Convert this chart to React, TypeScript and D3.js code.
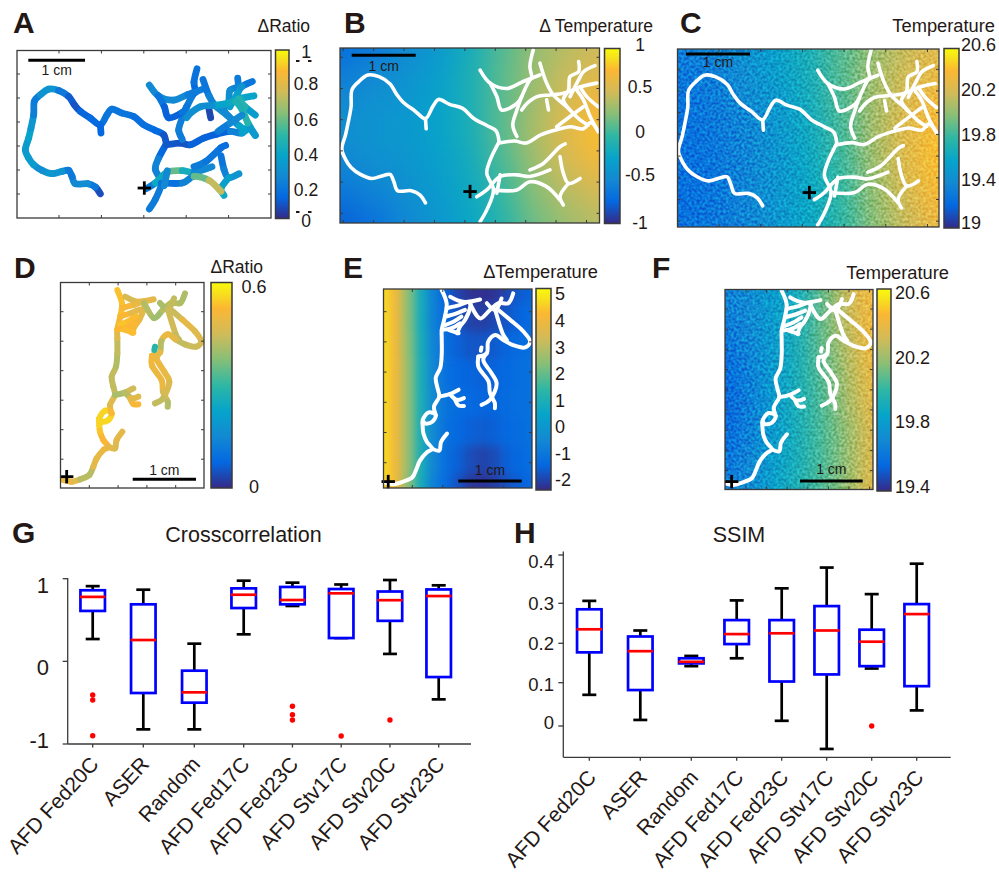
import React from 'react';
import * as d3 from 'd3';

// ---- data ----------------------------------------------------------------

const boxNames = ['AFD Fed20C', 'ASER', 'Random', 'AFD Fed17C', 'AFD Fed23C', 'AFD Stv17C', 'AFD Stv20C', 'AFD Stv23C'];

// low whisker, q1, median, q3, high whisker
const crossStats = [
  [0.27, 0.61, 0.78, 0.86, 0.91],
  [-0.823, -0.383, 0.258, 0.69, 0.867],
  [-0.823, -0.5, -0.375, -0.113, 0.214],
  [0.327, 0.645, 0.806, 0.883, 0.976],
  [0.67, 0.69, 0.742, 0.9, 0.952],
  [0.282, 0.282, 0.823, 0.875, 0.93],
  [0.09, 0.49, 0.74, 0.845, 0.984],
  [-0.46, -0.19, 0.79, 0.87, 0.92],
];
const crossOutliers = [[-0.407, -0.468, -0.9], [], [], [], [-0.544, -0.645, -0.71], [-0.903], [-0.71], []];

const ssimStats = [
  [0.072, 0.177, 0.235, 0.285, 0.305],
  [0.014, 0.083, 0.18, 0.217, 0.232],
  [0.142, 0.149, 0.153, 0.162, 0.168],
  [0.162, 0.198, 0.223, 0.258, 0.306],
  [0.012, 0.103, 0.225, 0.258, 0.331],
  [-0.053, 0.121, 0.232, 0.293, 0.374],
  [0.136, 0.142, 0.204, 0.234, 0.319],
  [0.036, 0.092, 0.273, 0.298, 0.382],
];
const ssimOutliers = [[], [], [], [], [], [], [0], []];

// worm track 1: stage x, stage y, delta ratio
const track1 = [
  [[300, 582, 0.03], [285, 562, 0.12], [262, 552, 0.25], [225, 552, 0.3], [215, 530, 0.2], [205, 512, 0.17], [185, 515, 0.22], [155, 522, 0.38], [125, 512, 0.25], [100, 495, 0.3], [85, 475, 0.38], [75, 450, 0.3], [85, 415, 0.35], [92, 385, 0.4], [100, 345, 0.22], [102, 305, 0.2], [120, 285, 0.2], [145, 268, 0.38], [175, 272, 0.22], [205, 290, 0.15], [222, 315, 0.05], [240, 335, 0.12], [270, 355, 0.12], [300, 375, 0.15], [320, 345, 0.2], [335, 328, 0.15], [365, 340, 0.2], [400, 350, 0.15], [430, 375, 0.15], [465, 392, 0.15], [490, 405, 0.12], [498, 432, 0.05]],
  [[300, 375, 0.15], [302, 400, 0.1]],
  [[498, 432, 0.05], [474, 477, 0.2], [465, 509, 0.25], [483, 550, 0.2], [465, 599, 0.2], [447, 628, 0.2]],
  [[498, 435, 0.1], [540, 430, 0.08], [570, 435, 0.08], [610, 415, 0.15], [650, 403, 0.08], [690, 395, 0.15], [725, 400, 0.3], [745, 385, 0.4], [765, 407, 0.2]],
  [[546, 419, 0.2], [535, 391, 0.2], [546, 354, 0.22], [559, 321, 0.2], [581, 280, 0.2], [586, 276, 0.1], [581, 247, 0.15], [590, 207, 0.18]],
  [[447, 256, 0.3], [474, 288, 0.2], [519, 301, 0.3], [563, 284, 0.2], [608, 268, 0.2]],
  [[474, 288, 0.2], [492, 321, 0.15], [505, 354, 0.08], [546, 338, 0.15], [559, 321, 0.2]],
  [[608, 239, 0.2], [626, 288, 0.15], [644, 317, 0.3], [680, 346, 0.25], [716, 378, 0.3], [738, 391, 0.45]],
  [[631, 354, 0.05], [626, 329, 0.07]],
  [[712, 235, 0.2], [712, 260, 0.2], [689, 272, 0.25], [685, 305, 0.3], [671, 329, 0.25], [689, 354, 0.25]],
  [[756, 245, 0.15], [725, 260, 0.2], [712, 280, 0.4], [689, 321, 0.3]],
  [[761, 288, 0.4], [725, 295, 0.35], [671, 313, 0.45], [635, 317, 0.3], [600, 321, 0.25], [573, 338, 0.3], [559, 354, 0.25]],
  [[765, 346, 0.2], [734, 321, 0.48], [716, 297, 0.45]],
  [[765, 407, 0.2], [743, 370, 0.45], [725, 329, 0.5], [707, 305, 0.4]],
  [[653, 395, 0.2], [689, 370, 0.2], [725, 346, 0.3]],
  [[438, 567, 0.2], [465, 550, 0.2], [501, 517, 0.6], [546, 513, 0.55], [581, 517, 0.3], [635, 501, 0.2]],
  [[581, 501, 0.2], [617, 485, 0.2], [662, 444, 0.15], [676, 437, 0.15]],
  [[662, 468, 0.15], [671, 509, 0.2], [685, 534, 0.25], [716, 522, 0.35]],
  [[685, 534, 0.3], [662, 566, 0.4], [671, 587, 0.4]],
  [[483, 550, 0.18], [546, 550, 0.15], [581, 530, 0.3], [626, 542, 0.85], [662, 575, 0.6]],
  [[501, 513, 0.35], [492, 558, 0.15]],
];

// worm track 2
const track2 = [
  [[190, 690, 0.5], [215, 695, 0.5], [240, 688, 0.47], [268, 675, 0.38], [280, 650, 0.47], [290, 625, 0.5], [310, 600, 0.48], [325, 590, 0.52], [310, 570, 0.52], [300, 545, 0.52], [298, 525, 0.56], [298, 505, 0.55], [315, 482, 0.56], [335, 490, 0.55], [325, 510, 0.56], [305, 515, 0.56], [298, 505, 0.55]],
  [[335, 490, 0.53], [330, 465, 0.5], [345, 435, 0.45], [340, 410, 0.42], [335, 380, 0.45], [348, 350, 0.42], [352, 310, 0.42], [352, 265, 0.45], [352, 238, 0.5], [361, 199, 0.52], [366, 160, 0.55], [352, 120, 0.52]],
  [[325, 590, 0.5], [345, 595, 0.47], [350, 570, 0.47], [367, 545, 0.5]],
  [[345, 435, 0.42], [375, 428, 0.4], [400, 415, 0.5]],
  [[375, 428, 0.4], [395, 445, 0.45], [415, 440, 0.5]],
  [[390, 445, 0.45], [400, 462, 0.52], [415, 463, 0.52]],
  [[376, 140, 0.45], [413, 155, 0.48], [461, 148, 0.48]],
  [[366, 174, 0.56], [404, 164, 0.48], [432, 155, 0.5], [432, 174, 0.46], [418, 209, 0.5], [404, 228, 0.5], [396, 248, 0.52]],
  [[361, 199, 0.55], [394, 189, 0.5], [418, 179, 0.46]],
  [[361, 224, 0.52], [385, 214, 0.56], [408, 199, 0.5]],
  [[352, 238, 0.5], [380, 233, 0.55], [404, 219, 0.5]],
  [[371, 238, 0.54], [400, 248, 0.52]],
  [[432, 159, 0.42], [461, 204, 0.42], [489, 179, 0.38], [513, 159, 0.48], [541, 159, 0.38], [555, 130, 0.45]],
  [[480, 159, 0.4], [504, 179, 0.42], [522, 145, 0.45]],
  [[504, 179, 0.45], [527, 253, 0.45], [537, 268, 0.42]],
  [[513, 179, 0.42], [546, 208, 0.47], [584, 243, 0.5], [603, 273, 0.45], [589, 290, 0.47], [555, 283, 0.42], [527, 268, 0.45], [504, 253, 0.52], [484, 273, 0.47], [480, 307, 0.38], [456, 317, 0.5]],
  [[456, 317, 0.52], [456, 347, 0.5], [485, 391, 0.5], [489, 425, 0.5], [503, 455, 0.42], [503, 470, 0.42]],
  [[480, 307, 0.48], [470, 327, 0.5], [494, 367, 0.5], [508, 397, 0.48], [489, 445, 0.45], [465, 460, 0.42]],
  [[465, 290, 0.28], [463, 300, 0.3]],
];

// temperature maps, top row first
const fieldB = [
  [-0.7, -0.62, -0.5, -0.35, -0.15, 0.1, 0.3, 0.42, 0.5],
  [-0.58, -0.5, -0.42, -0.3, -0.12, 0.12, 0.32, 0.48, 0.6],
  [-0.48, -0.42, -0.38, -0.27, -0.12, 0.12, 0.35, 0.55, 0.72],
  [-0.45, -0.4, -0.36, -0.27, -0.13, 0.12, 0.38, 0.6, 0.78],
  [-0.52, -0.45, -0.4, -0.3, -0.17, 0.08, 0.32, 0.52, 0.68],
  [-0.65, -0.55, -0.45, -0.33, -0.2, 0.02, 0.25, 0.42, 0.52],
  [-0.78, -0.68, -0.52, -0.38, -0.23, -0.05, 0.18, 0.32, 0.42],
];
const fieldC = [
  [19.32, 19.36, 19.45, 19.56, 19.7, 19.88, 20.05, 20.18, 20.28],
  [19.28, 19.32, 19.42, 19.54, 19.68, 19.88, 20.07, 20.22, 20.32],
  [19.25, 19.3, 19.38, 19.5, 19.66, 19.86, 20.08, 20.26, 20.38],
  [19.24, 19.28, 19.36, 19.48, 19.64, 19.84, 20.08, 20.28, 20.42],
  [19.24, 19.27, 19.36, 19.48, 19.62, 19.82, 20.06, 20.27, 20.42],
  [19.24, 19.27, 19.36, 19.48, 19.62, 19.8, 20.03, 20.22, 20.38],
  [19.25, 19.28, 19.36, 19.48, 19.62, 19.78, 20.0, 20.18, 20.33],
];
const fieldE = [
  [4.7, 3.98, 2.39, 0.85, -0.73, -1.49, -2.02, -2.25, -2.32, -2.25, -1.94, -1.64, -1.49],
  [4.7, 3.98, 2.39, 0.85, -0.73, -1.41, -1.79, -2.02, -2.1, -1.94, -1.72, -1.49, -1.34],
  [4.7, 3.98, 2.46, 0.9, -0.65, -1.26, -1.56, -1.72, -1.72, -1.64, -1.49, -1.34, -1.26],
  [4.7, 3.98, 2.54, 0.94, -0.58, -1.18, -1.41, -1.49, -1.56, -1.49, -1.41, -1.26, -1.18],
  [4.7, 3.98, 2.54, 0.94, -0.5, -1.11, -1.34, -1.41, -1.49, -1.49, -1.34, -1.26, -1.18],
  [4.7, 3.98, 2.54, 0.94, -0.5, -1.18, -1.41, -1.56, -1.64, -1.56, -1.41, -1.34, -1.18],
  [4.7, 3.98, 2.54, 0.94, -0.58, -1.26, -1.56, -1.87, -2.02, -1.87, -1.56, -1.41, -1.26],
  [4.7, 3.98, 2.39, 0.85, -0.73, -1.34, -1.79, -2.17, -2.25, -2.1, -1.79, -1.56, -1.41],
];
const fieldF = [
  [19.66, 19.72, 19.8, 19.9, 20.1, 20.3, 20.42],
  [19.64, 19.7, 19.8, 19.93, 20.1, 20.29, 20.42],
  [19.59, 19.68, 19.8, 19.93, 20.1, 20.26, 20.42],
  [19.56, 19.66, 19.8, 19.93, 20.07, 20.24, 20.4],
  [19.54, 19.65, 19.8, 19.93, 20.06, 20.22, 20.38],
  [19.56, 19.66, 19.8, 19.93, 20.05, 20.19, 20.36],
  [19.59, 19.69, 19.81, 19.93, 20.05, 20.19, 20.36],
  [19.64, 19.72, 19.83, 19.95, 20.06, 20.19, 20.38],
];

const barA = [0, 0.2, 0.4, 0.6, 0.8, 1];
const barB = [-1, -0.5, 0, 0.5, 1];
const barC = [19, 19.4, 19.8, 20.2, 20.6];
const barD = [0, 0.6];
const barE = [-2, -1, 0, 1, 2, 3, 4, 5];
const barF = [19.4, 19.8, 20.2, 20.6];

// ---- helpers -------------------------------------------------------------

const FONT = "'Liberation Sans', Arial, sans-serif";
const INK = '#231815';
const EDGE = '#3a3a3a';

const parula = d3.scaleLinear<string>()
  .domain([0, 0.125, 0.25, 0.375, 0.5, 0.625, 0.75, 0.875, 0.95, 1])
  .range(['#352a87', '#0468e1', '#1389d3', '#06a4ca', '#2eb7a4', '#87bf77', '#d1bb59', '#fbb733', '#f7e21c', '#f8fa0d'])
  .interpolate(d3.interpolateRgb);

type Frame = { x0: number; x1: number; y0: number; y1: number };

function Heat({ id, values, domain, frame, blur, noisy }: any) {
  const { x0, x1, y0, y1 } = frame as Frame;
  const rows = values.length;
  const cols = values[0].length;
  const x = d3.scaleLinear([0, cols - 1], [x0, x1]);
  const y = d3.scaleLinear([0, rows - 1], [y0, y1]);
  const w = x(1) - x(0);
  const h = y(1) - y(0);
  const color = d3.scaleLinear(domain, [0, 1]);
  const pad = 60;
  return (
    <g clipPath={`url(#clip-${id})`}>
      <clipPath id={`clip-${id}`}>
        <rect x={x0} y={y0} width={x1 - x0} height={y1 - y0} />
      </clipPath>
      <filter id={`soft-${id}`} filterUnits="userSpaceOnUse" x={x0 - pad} y={y0 - pad}
        width={x1 - x0 + 2 * pad} height={y1 - y0 + 2 * pad} colorInterpolationFilters="sRGB">
        <feGaussianBlur stdDeviation={blur} />
      </filter>
      <g filter={`url(#soft-${id})`}>
        {values.map((row: number[], r: number) => row.map((v, c) => {
          const left = c === 0 ? x0 - pad : x(c) - w / 2;
          const right = c === cols - 1 ? x1 + pad : x(c) + w / 2;
          const top = r === 0 ? y0 - pad : y(r) - h / 2;
          const bottom = r === rows - 1 ? y1 + pad : y(r) + h / 2;
          return <rect key={`${r}-${c}`} x={left} y={top} width={right - left + 0.5} height={bottom - top + 0.5} fill={parula(color(v))} />;
        }))}
      </g>
      {noisy && (
        <rect x={x0} y={y0} width={x1 - x0} height={y1 - y0} filter="url(#grain)" opacity={0.3}
          style={{ mixBlendMode: 'overlay' }} />
      )}
    </g>
  );
}

const trackScales = (xIn: number[], xOut: number[], yIn: number[], yOut: number[]) => ({
  x: d3.scaleLinear(xIn, xOut),
  y: d3.scaleLinear(yIn, yOut),
});

function WhiteTrack({ track, scales, width, clip }: any) {
  const line = d3.line<number[]>().x(d => scales.x(d[0])).y(d => scales.y(d[1])).curve(d3.curveCatmullRom);
  return (
    <g clipPath={clip}>
      {track.map((b: number[][], i: number) => (
        <path key={i} d={line(b) as string} fill="none" stroke="#fff" strokeWidth={width} strokeLinecap="round" strokeLinejoin="round" />
      ))}
    </g>
  );
}

// one bezier per stretch so that each stretch can take its own colour
function ColorTrack({ track, scales, width, domain }: any) {
  const color = d3.scaleLinear(domain, [0, 1]);
  return (
    <g fill="none" strokeWidth={width} strokeLinecap="round">
      {track.map((b: number[][], i: number) => {
        const pts = b.map(p => [scales.x(p[0]), scales.y(p[1])]);
        return b.slice(1).map((p, j) => {
          const a = pts[Math.max(j - 1, 0)];
          const s = pts[j];
          const e = pts[j + 1];
          const z = pts[Math.min(j + 2, pts.length - 1)];
          const path = d3.path();
          path.moveTo(s[0], s[1]);
          path.bezierCurveTo(s[0] + (e[0] - a[0]) / 6, s[1] + (e[1] - a[1]) / 6, e[0] - (z[0] - s[0]) / 6, e[1] - (z[1] - s[1]) / 6, e[0], e[1]);
          return <path key={`${i}-${j}`} d={path.toString()} stroke={parula(color((b[j][2] + p[2]) / 2))} />;
        });
      })}
    </g>
  );
}

function Box({ frame, xs, ys }: any) {
  const { x0, x1, y0, y1 } = frame as Frame;
  const t = 3;
  return (
    <g stroke={EDGE} strokeWidth={1} fill="none">
      {xs.map((x: number) => (
        <g key={x}>
          <line x1={x} x2={x} y1={y0} y2={y0 + t} />
          <line x1={x} x2={x} y1={y1} y2={y1 - t} />
        </g>
      ))}
      {ys.map((y: number) => (
        <g key={y}>
          <line x1={x0} x2={x0 + t} y1={y} y2={y} />
          <line x1={x1} x2={x1 - t} y1={y} y2={y} />
        </g>
      ))}
      <rect x={x0} y={y0} width={x1 - x0} height={y1 - y0} strokeWidth={1.3} />
    </g>
  );
}

function ColorBar({ frame, ticks, scale, lx, size, anchor }: any) {
  const { x0, x1, y0, y1 } = frame as Frame;
  return (
    <g>
      <rect x={x0} y={y0} width={x1 - x0} height={y1 - y0} fill="url(#parula)" stroke={EDGE} strokeWidth={1.5} />
      {ticks.map((t: number) => (
        <text key={t} x={lx} y={scale(t)} dy="0.36em" textAnchor={anchor} fontSize={size} fill={INK}>{t}</text>
      ))}
    </g>
  );
}

function ScaleBar({ x0, x1, y, labelY }: any) {
  return (
    <g>
      <line x1={x0} x2={x1} y1={y} y2={y} stroke="#000" strokeWidth={3} />
      <text x={(x0 + x1) / 2} y={labelY} textAnchor="middle" fontSize={14} fill={INK}>1 cm</text>
    </g>
  );
}

function Plus({ scales, at }: any) {
  const x = scales.x(at[0]);
  const y = scales.y(at[1]);
  const arm = 6.7;
  return (
    <g stroke="#000" strokeWidth={2.8}>
      <line x1={x - arm} x2={x + arm} y1={y} y2={y} />
      <line x1={x} x2={x} y1={y - arm} y2={y + arm} />
    </g>
  );
}

function Letter({ x, y, children }: any) {
  return <text x={x} y={y} fontSize={30} fontWeight="bold" fill={INK}>{children}</text>;
}

function BoxPanel({ stats, outliers, x, y, left, right, top, bottom, ticks, tickLabel, labelDx, labelDy, title, titleX, titleY }: any) {
  const boxW = 24.5;
  const capW = 14;
  return (
    <g>
      <text x={titleX} y={titleY} textAnchor="middle" fontSize={21.5} fill={INK}>{title}</text>
      <g stroke={EDGE} strokeWidth={1.3} fill="none">
        <line x1={left} x2={left} y1={top} y2={bottom} />
        <line x1={left} x2={right} y1={bottom} y2={bottom} />
        {ticks.map((t: number) => <line key={t} x1={left - 5} x2={left} y1={y(t)} y2={y(t)} />)}
        {boxNames.map((_, i) => <line key={i} x1={x(i)} x2={x(i)} y1={bottom} y2={bottom + 3.5} />)}
      </g>
      {ticks.map((t: number) => (
        <text key={t} x={tickLabel.x} y={tickLabel.y(t)} dy="0.36em" textAnchor="end" fontSize={tickLabel.size} fill={INK}>{t}</text>
      ))}
      {boxNames.map((name, i) => (
        <text key={name} transform={`translate(${x(i) + labelDx},${bottom + labelDy}) rotate(-47.5)`} textAnchor="end" fontSize={21} fill={INK}>{name}</text>
      ))}
      {stats.map((s: number[], i: number) => {
        const [lo, q1, med, q3, hi] = s;
        const cx = x(i);
        return (
          <g key={i}>
            <g stroke="#000" strokeWidth={2.7}>
              <line x1={cx} x2={cx} y1={y(q3)} y2={y(hi)} />
              <line x1={cx} x2={cx} y1={y(q1)} y2={y(lo)} />
              <line x1={cx - capW / 2} x2={cx + capW / 2} y1={y(hi)} y2={y(hi)} />
              <line x1={cx - capW / 2} x2={cx + capW / 2} y1={y(lo)} y2={y(lo)} />
            </g>
            <rect x={cx - boxW / 2} y={y(q3)} width={boxW} height={y(q1) - y(q3)} fill="#fff" stroke="#0000ff" strokeWidth={2.7} />
            <line x1={cx - boxW / 2 - 0.5} x2={cx + boxW / 2 + 0.5} y1={y(med)} y2={y(med)} stroke="#ff0000" strokeWidth={2.7} />
            {outliers[i].map((o: number) => <circle key={o} cx={cx} cy={y(o)} r={2.7} fill="#ff0000" />)}
          </g>
        );
      })}
    </g>
  );
}

// ---- layout --------------------------------------------------------------

const frameA = { x0: 17, x1: 271, y0: 50.5, y1: 218 };
const frameB = { x0: 340, x1: 599.5, y0: 48, y1: 223 };
const frameC = { x0: 677.5, x1: 939, y0: 49, y1: 227 };
const frameD = { x0: 60.5, x1: 204, y0: 282.5, y1: 488 };
const frameE = { x0: 383.5, x1: 532, y0: 289, y1: 488 };
const frameF = { x0: 725, x1: 873, y0: 289.5, y1: 489.5 };

const scalesA = trackScales([50, 812], [17, 271], [152, 655], [50.5, 218]);
const scalesB = trackScales([72, 765], [340.7, 598.3], [205, 628], [49.3, 221.7]);
const scalesC = trackScales([72, 765], [677.3, 936.7], [205, 628], [49, 225]);
const scalesD = trackScales([0, 270], [0, 90], [0, 300], [250, 350]);
const scalesE = trackScales([190, 603], [384.7, 530.1], [120, 690], [290, 482.6]);
const scalesF = trackScales([190, 603], [724.2, 870.7], [120, 690], [290.7, 483.3]);

// ---- chart ---------------------------------------------------------------

export default function App() {
  const gradientStops = d3.range(0, 1.001, 0.025);

  const crossX = d3.scaleLinear([0, 1, 2, 3, 7], [92.7, 143.3, 194.3, 243.7, 438.7]);
  const crossY = d3.scaleLinear([-1, 1], [744, 578.7]);
  const crossLabelY = d3.scaleLinear([-1, 0, 1], [740, 667, 585]);

  const ssimX = d3.scaleLinear([0, 1, 2, 3, 7], [589.3, 640.3, 691.3, 736.7, 916.7]);
  const ssimY = d3.scaleLinear([0, 0.1, 0.2, 0.3, 0.4], [726, 682.7, 643.3, 603.3, 555]);
  const ssimLabelY = d3.scaleLinear([0, 0.1, 0.2, 0.3, 0.4], [722.7, 684, 643.3, 603.3, 561.7]);

  const barAY = d3.scaleLinear([0, 0.2, 0.8, 1], [221, 190, 84, 52]);
  const barBY = d3.scaleLinear([-1, -0.5, 0, 0.5, 1], [223, 175, 132, 87, 45]);
  const barCY = d3.scaleLinear([19, 19.4, 19.8, 20.2, 20.6], [223, 180, 135, 90, 45]);
  const barDY = d3.scaleLinear([0, 0.6], [487, 287]);
  const barEY = d3.scaleLinear([-2, 5], [480, 294]);
  const barFY = d3.scaleLinear([19.4, 19.8, 20.2, 20.6], [487, 422, 358, 293]);

  return (
    <svg width={999} height={874} viewBox="0 0 999 874" fontFamily={FONT}
      style={{ position: 'absolute', left: 0, top: 0, background: '#fff' }}>
      <defs>
        <linearGradient id="parula" x1="0" x2="0" y1="1" y2="0">
          {gradientStops.map(t => <stop key={t} offset={t} stopColor={parula(t)} />)}
        </linearGradient>
        <filter id="grain" x="0" y="0" width="100%" height="100%" colorInterpolationFilters="sRGB">
          <feTurbulence type="fractalNoise" baseFrequency="0.38" numOctaves={1} seed={7} />
          <feColorMatrix type="matrix" values="2.2 0 0 0 -0.6  2.2 0 0 0 -0.6  2.2 0 0 0 -0.6  0 0 0 0 1" />
        </filter>
        {[['B', frameB], ['C', frameC], ['E', frameE], ['F', frameF]].map(([k, f]: any) => (
          <clipPath key={k} id={`track-${k}`}>
            <rect x={f.x0} y={f.y0} width={f.x1 - f.x0} height={f.y1 - f.y0} />
          </clipPath>
        ))}
      </defs>

      {/* A */}
      <Letter x={13} y={33}>A</Letter>
      <text x={310} y={32} textAnchor="end" fontSize={17.5} fill={INK}>ΔRatio</text>
      <ColorTrack track={track1} scales={scalesA} width={6.8} domain={[0, 1]} />
      <ScaleBar x0={28.3} x1={85} y={60.3} labelY={74.5} />
      <Plus scales={scalesA} at={[432, 565]} />
      <Box frame={frameA} xs={d3.range(59, 271, 42.4)} ys={d3.range(74, 218, 24)} />
      <ColorBar frame={{ x0: 275.5, x1: 289, y0: 50, y1: 218.5 }} ticks={barA} scale={barAY} lx={306} size={17.5} anchor="middle" />
      <g stroke={INK} strokeWidth={2}>
        {[61, 212].map(y => (
          <g key={y}>
            <line x1={296} x2={299.5} y1={y} y2={y} />
            <line x1={308} x2={311.5} y1={y} y2={y} />
          </g>
        ))}
      </g>

      {/* B */}
      <Letter x={344} y={33}>B</Letter>
      <text x={653} y={32} textAnchor="end" fontSize={17.5} fill={INK}>Δ Temperature</text>
      <Heat id="B" values={fieldB} domain={[-1, 1]} frame={frameB} blur={13} />
      <WhiteTrack track={track1} scales={scalesB} width={3.6} clip="url(#track-B)" />
      <ScaleBar x0={351.7} x1={415.7} y={55.3} labelY={71} />
      <Plus scales={scalesB} at={[420, 554]} />
      <Box frame={frameB} xs={d3.range(343.3, 599, 30.4)} ys={d3.range(57.3, 223, 31.2)} />
      <ColorBar frame={{ x0: 604.5, x1: 620, y0: 48.5, y1: 223.5 }} ticks={barB} scale={barBY} lx={640} size={17.5} anchor="middle" />

      {/* C */}
      <Letter x={680} y={33}>C</Letter>
      <text x={995} y={32} textAnchor="end" fontSize={18.3} fill={INK}>Temperature</text>
      <Heat id="C" values={fieldC} domain={[19, 20.6]} frame={frameC} blur={13} noisy />
      <WhiteTrack track={track1} scales={scalesC} width={3.6} clip="url(#track-C)" />
      <ScaleBar x0={686} x1={750} y={54} labelY={67} />
      <Plus scales={scalesC} at={[424.8, 550]} />
      <Box frame={frameC} xs={d3.range(719, 939, 41.7)} ys={d3.range(69.3, 227, 21.7)} />
      <ColorBar frame={{ x0: 944, x1: 959, y0: 48.5, y1: 228 }} ticks={barC} scale={barCY} lx={961} size={18} anchor="start" />

      {/* D */}
      <Letter x={14} y={278}>D</Letter>
      <text x={263} y={273} textAnchor="end" fontSize={17.5} fill={INK}>ΔRatio</text>
      <ColorTrack track={track2} scales={scalesD} width={6} domain={[0, 0.6]} />
      <ScaleBar x0={132.7} x1={196} y={479.3} labelY={475} />
      <Plus scales={scalesD} at={[200, 680]} />
      <Box frame={frameD} xs={d3.range(89.3, 204, 28.8)} ys={d3.range(311.7, 488, 29.5)} />
      <ColorBar frame={{ x0: 211, x1: 232, y0: 282.5, y1: 488 }} ticks={barD} scale={barDY} lx={254} size={18} anchor="middle" />

      {/* E */}
      <Letter x={343} y={278}>E</Letter>
      <text x={598} y={278} textAnchor="end" fontSize={18.3} fill={INK}>ΔTemperature</text>
      <Heat id="E" values={fieldE} domain={[-2.4, 5.2]} frame={frameE} blur={4} />
      <WhiteTrack track={track2} scales={scalesE} width={4} clip="url(#track-E)" />
      <ScaleBar x0={458.3} x1={521.7} y={481} labelY={475} />
      <Plus scales={scalesE} at={[200, 687]} />
      <Box frame={frameE} xs={d3.range(412.3, 532, 30.5)} ys={d3.range(311.7, 488, 30.2)} />
      <ColorBar frame={{ x0: 536, x1: 551, y0: 288.5, y1: 490 }} ticks={barE} scale={barEY} lx={555} size={18} anchor="start" />

      {/* F */}
      <Letter x={652} y={278}>F</Letter>
      <text x={949} y={279} textAnchor="end" fontSize={18.3} fill={INK}>Temperature</text>
      <Heat id="F" values={fieldF} domain={[19.4, 20.6]} frame={frameF} blur={11} noisy />
      <WhiteTrack track={track2} scales={scalesF} width={4} clip="url(#track-F)" />
      <ScaleBar x0={800} x1={862.7} y={481} labelY={474} />
      <Plus scales={scalesF} at={[211, 685]} />
      <Box frame={frameF} xs={d3.range(746, 873, 20.6)} ys={d3.range(309, 489, 20.2)} />
      <ColorBar frame={{ x0: 877, x1: 891, y0: 289, y1: 491 }} ticks={barF} scale={barFY} lx={895} size={18} anchor="start" />

      {/* G */}
      <Letter x={12} y={543}>G</Letter>
      <BoxPanel stats={crossStats} outliers={crossOutliers} x={crossX} y={crossY}
        left={67.7} right={471} top={578} bottom={744} ticks={[-1, 0, 1]}
        tickLabel={{ x: 49, y: crossLabelY, size: 22 }} labelDx={7} labelDy={21}
        title="Crosscorrelation" titleX={243.5} titleY={541.5} />

      {/* H */}
      <Letter x={514} y={543}>H</Letter>
      <BoxPanel stats={ssimStats} outliers={ssimOutliers} x={ssimX} y={ssimY}
        left={563.3} right={950.7} top={551.5} bottom={757.3} ticks={[0, 0.1, 0.2, 0.3, 0.4]}
        tickLabel={{ x: 554, y: ssimLabelY, size: 18.5 }} labelDx={8} labelDy={21}
        title="SSIM" titleX={739} titleY={541.5} />
    </svg>
  );
}
